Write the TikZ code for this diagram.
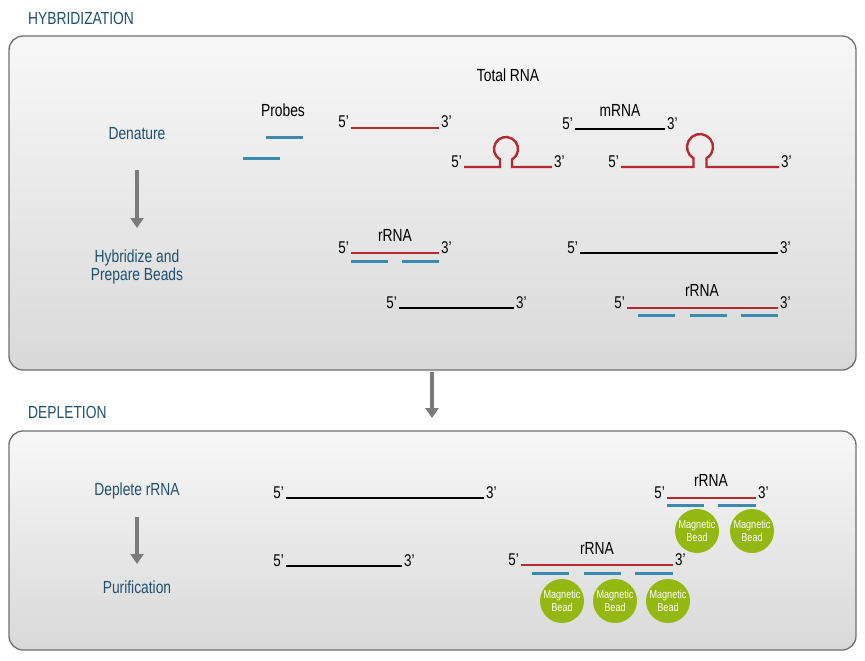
\documentclass[tikz,border=0pt]{standalone}
\usepackage{fontspec}
\setmainfont{Liberation Sans}[FakeStretch=0.79]
\usepackage{xcolor}
\usetikzlibrary{arrows.meta, positioning}

\definecolor{labelblue}{HTML}{1F5070}
\definecolor{rnared}{HTML}{B52A30}
\definecolor{probeblue}{HTML}{3A8BAD}
\definecolor{beadgreen}{HTML}{94B812}
\definecolor{arrowgray}{HTML}{7B7B7B}
\definecolor{boxedge}{HTML}{6E6E6E}

\tikzset{
  %% Panel with soft vertical gradient
  panel/.style={
    draw=boxedge, line width=1.3pt, rounded corners=14pt,
    top color=white!97!black, bottom color=black!15!white
  },
  %% Step and section labels
  steplbl/.style={text=labelblue, font=\fontsize{17.5}{16}\selectfont,
                  align=center, inner sep=0pt},
  headlbl/.style={text=labelblue, font=\fontsize{17.5}{17}\selectfont,
                  anchor=west, inner sep=0pt},
  txt/.style={font=\fontsize{17.5}{16}\selectfont, inner sep=0pt},
  %% Strand end labels
  endfive/.style={font=\fontsize{17}{16}\selectfont, anchor=base east,
                  inner sep=1pt, text=black},
  endthree/.style={font=\fontsize{17}{16}\selectfont, anchor=base west,
                   inner sep=1pt, text=black},
  %% Strands
  rrna/.style={draw=rnared, line width=2.4pt},
  mrna/.style={draw=black, line width=2.4pt},
  probe/.style={draw=probeblue, line width=3pt},
  %% Bead
  bead/.style={circle, fill=beadgreen, minimum size=44pt, inner sep=0pt,
               text=white, align=center,
               font=\fontsize{11.5}{13}\selectfont},
  %% Step arrow
  steparr/.style={draw=arrowgray, line width=4.5pt,
                  -{Triangle[length=10pt,width=13pt]}},
}

\begin{document}
\begin{tikzpicture}[x=1pt, y=-1pt]

  \useasboundingbox (0,0) rectangle (865,661);

  %% Panels
  \path[panel] (9,36) rectangle (856,370);
  \path[panel] (9,431) rectangle (856,650);

  %% Section headings
  \node[headlbl] (hyb) at (28,18) {HYBRIDIZATION};
  \node[headlbl] (depl) at (28,412) {DEPLETION};

  %% Step labels
  \node[steplbl] (denature) at (137,134) {Denature};
  \node[steplbl] (hybridize) at (137,267) {Hybridize and\\Prepare Beads};
  \node[steplbl] (deplete) at (137,491) {Deplete rRNA};
  \node[steplbl] (purify) at (137,587) {Purification};

  %% Step arrows
  \coordinate (a1s) at (137,170);  \coordinate (a1e) at (137,228);
  \coordinate (a2s) at (137,517);  \coordinate (a2e) at (137,564);
  \coordinate (a3s) at (432,372);  \coordinate (a3e) at (432,418);
  \draw[steparr] (a1s) -- (a1e);
  \draw[steparr] (a2s) -- (a2e);
  \draw[steparr] (a3s) -- (a3e);

  %% ---------------- Denature ----------------
  \node[txt] (totalrna) at (508,75) {Total RNA};
  \node[txt] (probes) at (283,110) {Probes};
  \draw[probe] (266,137) -- (303,137);
  \draw[probe] (243,158) -- (280,158);

  \draw[rrna] (351,128) node[endfive] (r1l) {5'}
              -- (439,128) node[endthree] (r1r) {3'};

  \node[txt] (mrnalbl) at (620,110) {mRNA};
  \draw[mrna] (575,129) node[endfive] (m1l) {5'}
              -- (665,129) node[endthree] (m1r) {3'};

  %% Hairpins
  \draw[rrna] (464,167) node[endfive] (h1l) {5'}
              -- (500,167) -- (500,159.4)
              arc[start angle=120, end angle=420, radius=12]
              -- (512,167) -- (552,167) node[endthree] (h1r) {3'};
  \draw[rrna] (621,167) node[endfive] (h2l) {5'}
              -- (693.5,167) -- (693.5,158.3)
              arc[start angle=120, end angle=420, radius=13]
              -- (706.5,167) -- (779,167) node[endthree] (h2r) {3'};

  %% ---------------- Hybridize ----------------
  \node[txt] (rrna1) at (395,235) {rRNA};
  \draw[rrna] (351,253) node[endfive] (r2l) {5'}
              -- (439,253) node[endthree] (r2r) {3'};
  \foreach \xa/\xb in {351/388, 402/439}
    \draw[probe] (\xa,261) -- (\xb,261);

  \draw[mrna] (399,308) node[endfive] (m2l) {5'}
              -- (514,308) node[endthree] (m2r) {3'};
  \draw[mrna] (580,253) node[endfive] (m3l) {5'}
              -- (778,253) node[endthree] (m3r) {3'};

  \node[txt] (rrna2) at (702,290) {rRNA};
  \draw[rrna] (627,308) node[endfive] (r3l) {5'}
              -- (778,308) node[endthree] (r3r) {3'};
  \foreach \xa/\xb in {638/675, 690/727, 741/778}
    \draw[probe] (\xa,315) -- (\xb,315);

  %% ---------------- Depletion ----------------
  \draw[mrna] (286,498) node[endfive] (m4l) {5'}
              -- (484,498) node[endthree] (m4r) {3'};
  \draw[mrna] (286,566) node[endfive] (m5l) {5'}
              -- (402,566) node[endthree] (m5r) {3'};

  %% Captured rRNA (upper)
  \node[txt] (rrna3) at (711,480) {rRNA};
  \draw[rrna] (667,498) node[endfive] (r4l) {5'}
              -- (756,498) node[endthree] (r4r) {3'};
  \foreach \xa/\xb in {667/704, 718/756}
    \draw[probe] (\xa,505) -- (\xb,505);
  \foreach \x/\n in {697/1, 752/2}
    \node[bead] (bu\n) at (\x,531) {Magnetic\\Bead};

  %% Captured rRNA (lower)
  \node[txt] (rrna4) at (597,548) {rRNA};
  \draw[rrna] (521,565) node[endfive] (r5l) {5'}
              -- (673,565) node[endthree] (r5r) {3'};
  \foreach \xa/\xb in {532/569, 584/621, 635/673}
    \draw[probe] (\xa,573) -- (\xb,573);
  \foreach \x/\n in {562/1, 615/2, 668/3}
    \node[bead] (bl\n) at (\x,601) {Magnetic\\Bead};

\end{tikzpicture}
\end{document}
